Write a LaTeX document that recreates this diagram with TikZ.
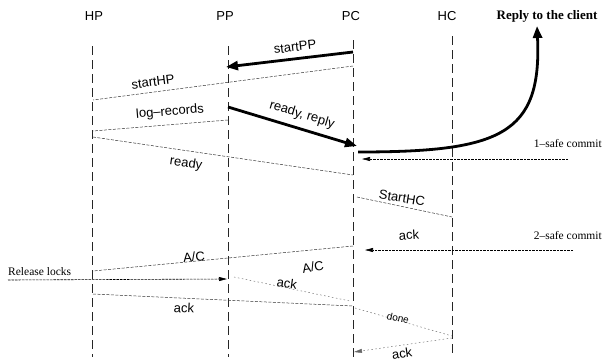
\documentclass[tikz,border=0pt]{standalone}
\usepackage{fontspec}
\setmainfont{Liberation Serif}
\setsansfont{Liberation Sans}
\usetikzlibrary{arrows.meta}
\begin{document}
\begin{tikzpicture}[x=1pt,y=-1pt,
  lifeline/.style={line width=0.7pt, dash pattern=on 9pt off 5pt, black!85},
  msg/.style={line width=0.5pt, black!80, dash pattern=on 3pt off 1.5pt},
  faint/.style={line width=0.45pt, black!60, dash pattern=on 1.5pt off 2.5pt},
  thickmsg/.style={line width=2.8pt, -{Triangle[length=12pt,width=9pt]}},
  cmsg/.style={line width=0.6pt, dash pattern=on 2.5pt off 1pt, -{Triangle[length=8pt,width=4pt]}},
  hdr/.style={font=\sffamily\fontsize{13}{13}\selectfont},
  lbl/.style={font=\sffamily\fontsize{13}{13}\selectfont, inner sep=0pt},
  small/.style={font=\sffamily\fontsize{10}{10}\selectfont, inner sep=0pt},
  side/.style={font=\fontsize{11.5}{12}\selectfont, inner sep=0pt}
]
\useasboundingbox (0,0) rectangle (603,362);
% headers
\node[hdr] (HP) at (94,16) {HP};
\node[hdr] (PP) at (225,16) {PP};
\node[hdr] (PC) at (351,16) {PC};
\node[hdr] (HC) at (447,16) {HC};
\node[font=\bfseries\fontsize{13}{13}\selectfont] (RC) at (547,16) {Reply to the client};
% lifelines
\coordinate (HPt) at (92,46);  \coordinate (HPb) at (92,357);
\coordinate (PPt) at (228,46); \coordinate (PPb) at (228,357);
\coordinate (PCt) at (353,40); \coordinate (PCb) at (353,357);
\coordinate (HCt) at (452,36); \coordinate (HCb) at (452,355);
\draw[lifeline] (HPt) -- (HPb);
\draw[lifeline] (PPt) -- (PPb);
\draw[lifeline] (PCt) -- (PCb);
\draw[lifeline] (HCt) -- (HCb);
% startPP
\coordinate (a1) at (353,52); \coordinate (a2) at (226,67);
\draw[thickmsg] (a1) -- (a2);
\node[lbl, rotate=6.7] (l1) at (295,47) {startPP};
% startHP
\coordinate (b1) at (353,66); \coordinate (b2) at (93,100);
\draw[msg] (b1) -- (b2);
\node[lbl, rotate=7.5] (l2) at (153,82) {startHP};
% log-records
\coordinate (c1) at (228,120); \coordinate (c2) at (93,131);
\draw[msg] (c1) -- (c2);
\node[lbl, rotate=4.7] (l3) at (170,112) {log\textendash records};
% ready, reply
\coordinate (d1) at (228,107); \coordinate (d2) at (357,146);
\draw[thickmsg] (d1) -- (d2);
\node[lbl, rotate=-16.8] (l4) at (302,115) {ready,~reply};
% ready
\coordinate (e1) at (93,137); \coordinate (e2) at (353,175);
\draw[msg] (e1) -- (e2);
\node[lbl, rotate=-8.3] (l5) at (186,164) {ready};
% reply curve
\coordinate (f1) at (358,152); \coordinate (f2) at (537,26);
\draw[thickmsg] (f1) .. controls (500,152) and (542,135) .. (f2);
% 1-safe commit
\coordinate (g1) at (568,159); \coordinate (g2) at (362,159);
\draw[cmsg] (g1) -- (g2);
\node[side, anchor=east] (l6) at (602,144) {1\textendash safe commit};
% StartHC
\coordinate (h1) at (357,197); \coordinate (h2) at (452,217);
\draw[msg] (h1) -- (h2);
\node[lbl, rotate=-9] (l7) at (402,198) {StartHC};
% ack (2-safe)
\coordinate (i1) at (573,250); \coordinate (i2) at (365,250);
\draw[cmsg] (i1) -- (i2);
\node[lbl, rotate=4] (l8) at (409,235) {ack};
\node[side, anchor=east] (l9) at (602,236) {2\textendash safe commit};
% A/C
\coordinate (j1) at (353,246); \coordinate (j2) at (93,271);
\draw[msg] (j1) -- (j2);
\node[lbl, rotate=5] (l10) at (194,257) {A/C};
\node[lbl, rotate=10] (l11) at (313,267) {A/C};
% Release locks
\coordinate (k1) at (8,280); \coordinate (k2) at (227,279);
\draw[cmsg] (k1) -- (k2);
\node[side, anchor=west] (l12) at (8,272) {Release locks};
% ack PP -> PC
\coordinate (m1) at (234,277); \coordinate (m2) at (350,301);
\draw[faint] (m1) -- (m2);
\node[lbl, rotate=-8] (l13) at (287,283) {ack};
% ack HP -> PC
\coordinate (n1) at (93,294); \coordinate (n2) at (353,306);
\draw[msg] (n1) -- (n2);
\node[lbl, rotate=-3] (l14) at (184,308) {ack};
% done
\coordinate (o1) at (355,308); \coordinate (o2) at (452,336);
\draw[faint] (o1) -- (o2);
\node[small, rotate=-12] (l15) at (398,318) {done};
% ack HC -> PC
\coordinate (p1) at (452,338); \coordinate (p2) at (354,352);
\draw[faint, -{Triangle[length=8pt,width=4pt]}] (p1) -- (p2);
\node[lbl, rotate=8] (l16) at (402,353) {ack};
\end{tikzpicture}
\end{document}
